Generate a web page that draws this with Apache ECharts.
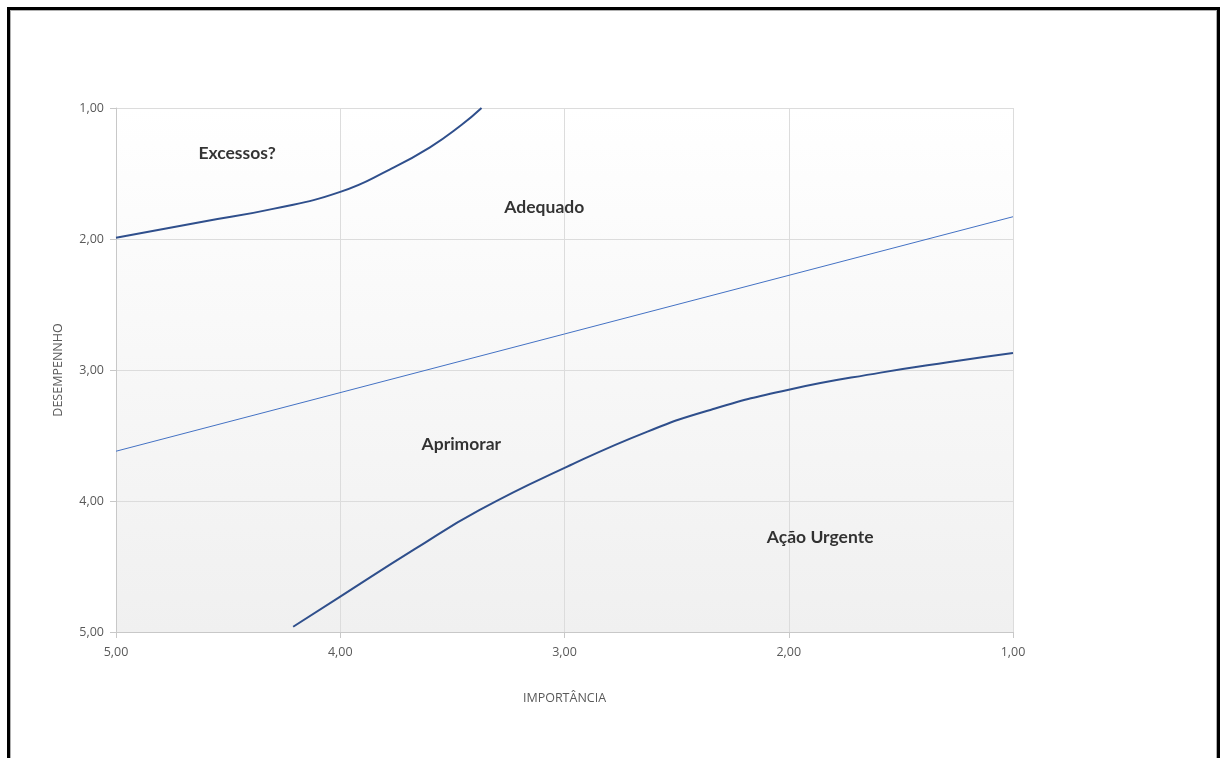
<!DOCTYPE html>
<html>
<head>
<meta charset="utf-8">
<script src="https://cdn.jsdelivr.net/npm/echarts@6/dist/echarts.min.js"></script>
<style>
  html, body { margin: 0; padding: 0; background: #fff; overflow: hidden; }
  #frame {
    position: absolute; left: 7px; top: 7px; width: 1207px; height: 800px;
    border: 3px solid #000; border-bottom: none;
    box-shadow: inset 0 0 0 1px #b0b0b0;
  }
  #chart { position: absolute; left: 0; top: 0; width: 1220px; height: 758px; }
</style>
</head>
<body>
<div id="frame"></div>
<div id="chart"></div>
<script>
// limite superior (Excessos / Adequado)
var curveTop = [
  [5.00, 1.99], [4.62, 1.87], [4.30, 1.77], [4.00, 1.64],
  [3.78, 1.47], [3.60, 1.30], [3.46, 1.13], [3.37, 1.00]
];
// linha de referencia
var lineMid = [[5.00, 3.62], [1.00, 1.83]];
// limite inferior (Aprimorar / Ação Urgente)
var curveBottom = [
  [4.21, 4.96], [4.00, 4.73], [3.67, 4.37], [3.38, 4.07], [2.99, 3.74],
  [2.63, 3.47], [2.34, 3.30], [2.00, 3.15], [1.59, 3.02], [1.29, 2.94], [1.00, 2.87]
];
// rotulos das regioes
var regionNames = ['Excessos?', 'Adequado', 'Aprimorar', 'Ação Urgente'];
var regionPos = [[4.46, 1.35], [3.09, 1.76], [3.46, 3.57], [1.86, 4.28]];

var fmt = function (v) { return v.toFixed(2).replace('.', ','); };

var myChart = echarts.init(document.getElementById('chart'));

var option = {
  backgroundColor: 'transparent',
  animation: false,
  grid: {
    left: 116, top: 108, right: 207, bottom: 126,
    show: true,
    borderWidth: 0,
    backgroundColor: {
      type: 'linear', x: 0, y: 0, x2: 0, y2: 1,
      colorStops: [{ offset: 0, color: '#ffffff' }, { offset: 1, color: '#f0f0f0' }]
    }
  },
  xAxis: {
    type: 'value', min: 1, max: 5, interval: 1, inverse: true,
    name: 'IMPORTÂNCIA', nameLocation: 'middle', nameGap: 60,
    nameTextStyle: { color: '#595959', fontSize: 12.5, fontFamily: 'Open Sans' },
    axisLine: { show: true, lineStyle: { color: '#c8c8c8', width: 1 } },
    axisTick: { show: true, length: 6, lineStyle: { color: '#c8c8c8' } },
    axisLabel: { color: '#595959', fontSize: 12.5, fontFamily: 'Open Sans', margin: 14, formatter: fmt },
    splitLine: { show: true, lineStyle: { color: '#dcdcdc', width: 1 } }
  },
  yAxis: {
    type: 'value', min: 1, max: 5, interval: 1, inverse: true,
    name: 'DESEMPENNHO', nameLocation: 'middle', nameGap: 51, nameRotate: 90,
    nameTextStyle: { color: '#595959', fontSize: 12.5, fontFamily: 'Open Sans' },
    axisLine: { show: true, lineStyle: { color: '#c8c8c8', width: 1 } },
    axisTick: { show: true, length: 6, lineStyle: { color: '#c8c8c8' } },
    axisLabel: { color: '#595959', fontSize: 12.5, fontFamily: 'Open Sans', margin: 12, formatter: fmt },
    splitLine: { show: true, lineStyle: { color: '#dcdcdc', width: 1 } }
  },
  series: [
    {
      type: 'line', data: curveTop, smooth: 0.5, symbol: 'none',
      lineStyle: { color: '#2f4f8c', width: 2 }
    },
    {
      type: 'line', data: lineMid, symbol: 'none',
      lineStyle: { color: '#4472c4', width: 1 }
    },
    {
      type: 'line', data: curveBottom, smooth: 0.5, symbol: 'none',
      lineStyle: { color: '#2f4f8c', width: 2 }
    },
    {
      type: 'scatter', symbolSize: 0, silent: true,
      data: regionPos.map(function (p, i) { return { name: regionNames[i], value: p }; }),
      label: {
        show: true, position: 'inside', formatter: '{b}',
        color: '#000', fontSize: 17.5, fontWeight: 'bold', fontFamily: 'Lato'
      }
    }
  ]
};

myChart.setOption(option);
</script>
</body>
</html>
